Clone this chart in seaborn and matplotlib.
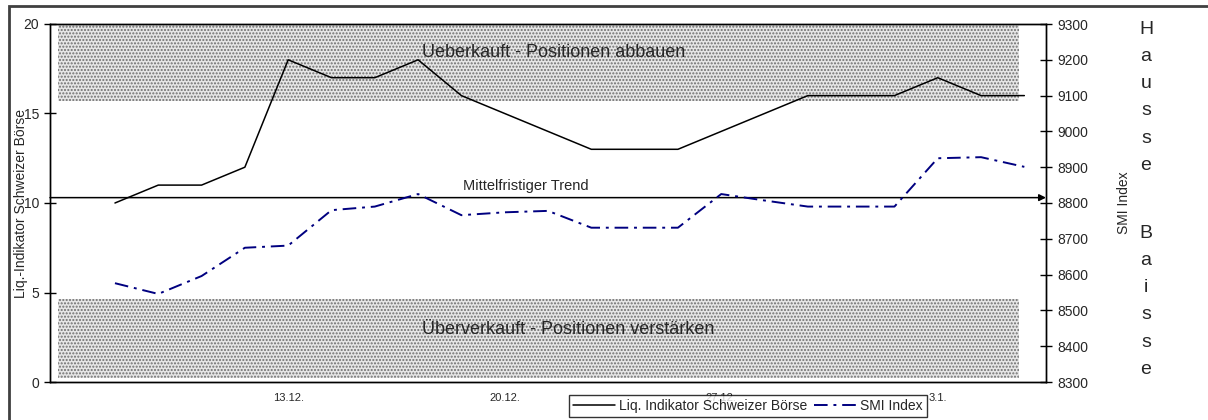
import numpy as np
import pandas as pd
import matplotlib
matplotlib.use('Agg')
import matplotlib.pyplot as plt
import seaborn as sns
from matplotlib.patches import Rectangle

# trading days 6.12. - 5.1.
dates = ['6.12.', '7.12.', '8.12.', '9.12.', '10.12.',
         '13.12.', '14.12.', '15.12.', '16.12.', '17.12.',
         '20.12.', '21.12.', '22.12.', '23.12.', '24.12.',
         '27.12.', '28.12.', '29.12.', '30.12.', '31.12.',
         '3.1.', '4.1.', '5.1.']
shown_labels = ['13.12.', '20.12.', '27.12.', '3.1.']

# values from 7.12. on
liq = [10, 11, 11, 12, 18, 17, 17, 18, 16, 15, 14, 13, 13, 13, 14, 15, 16, 16, 16, 17, 16, 16]
smi = [8576, 8546, 8596, 8675, 8681, 8780, 8790, 8825, 8766, 8774, 8778,
       8731, 8731, 8731, 8825, 8807, 8790, 8790, 8790, 8925, 8928, 8901]

zone_high = (15.7, 20.0)
zone_low = (0.2, 4.65)
trend_level = 10.3

pos = np.arange(len(dates))
df = pd.DataFrame({'pos': pos[1:1 + len(liq)], 'liq': liq, 'smi': smi})

sns.set_style('white')
plt.rcParams['font.family'] = ['Liberation Sans', 'DejaVu Sans']
plt.rcParams['hatch.linewidth'] = 1.0

fig = plt.figure(figsize=(12.08, 4.2), dpi=100)
ax = fig.add_axes([50 / 1208, 38 / 420, 996 / 1208, 358 / 420])
ax2 = ax.twinx()

# shaded zones
for lo, hi in (zone_high, zone_low):
    ax.axhspan(lo, hi, xmin=0.008, xmax=0.973, facecolor='#e6e6e6',
               edgecolor='#6e6e6e', hatch='.....', linewidth=0, zorder=0)

sns.lineplot(data=df, x='pos', y='liq', ax=ax, color='black', linewidth=1.1,
             label='Liq. Indikator Schweizer Börse')
sns.lineplot(data=df, x='pos', y='smi', ax=ax2, color='#000080', linewidth=1.4,
             linestyle=(0, (7, 3, 1.5, 3)), label='SMI Index')
for a in (ax, ax2):
    if a.get_legend() is not None:
        a.get_legend().remove()

# trend arrow
ax.annotate('', xy=(1.0, trend_level), xytext=(0.0, trend_level),
            xycoords=ax.get_yaxis_transform(), textcoords=ax.get_yaxis_transform(),
            arrowprops=dict(arrowstyle='-|>', color='black', lw=1.1, mutation_scale=10,
                            shrinkA=0, shrinkB=0))

ax.text(8.09, 18.4, 'Ueberkauft - Positionen abbauen', fontsize=13, va='center', ha='left')
ax.text(8.09, 2.96, 'Überverkauft - Positionen verstärken', fontsize=13, va='center', ha='left')
ax.text(9.03, 10.95, 'Mittelfristiger Trend', fontsize=10.5, va='center', ha='left')

# axes
ax.set_xlim(-0.5, len(dates) - 0.5)
ax.set_ylim(0, 20)
ax2.set_ylim(8300, 9300)
ax.set_yticks(np.arange(0, 21, 5))
ax2.set_yticks(np.arange(8300, 9301, 100))
ax.set_xticks(np.arange(-0.5, len(dates), 1))
ax.set_xticklabels([])
ax.set_xticks([dates.index(d) for d in shown_labels], minor=True)
ax.set_xticklabels(shown_labels, minor=True)
ax.tick_params(axis='x', which='minor', length=0, labelsize=8, pad=8)
ax.tick_params(axis='x', which='major', direction='inout', length=8, width=1, color='black')
ax.tick_params(axis='y', direction='inout', length=8, width=1, labelsize=10, pad=4, color='black')
ax2.tick_params(axis='y', direction='inout', length=8, width=1, labelsize=10, pad=4, color='black')
ax.set_xlabel('')
ax.set_ylabel('Liq.-Indikator Schweizer Börse', fontsize=10)
ax.yaxis.set_label_coords(-0.022, 0.5)
ax2.set_ylabel('SMI Index', fontsize=10)
ax2.yaxis.set_label_coords(1.071, 0.5)
for a in (ax, ax2):
    for s in a.spines.values():
        s.set_color('black')
        s.set_linewidth(1)

fig.text(1146 / 1208, 1 - 21 / 420, '\n'.join('Hausse'), fontsize=14, ha='center', va='top',
         linespacing=1.78)
fig.text(1146 / 1208, 1 - 225 / 420, '\n'.join('Baisse'), fontsize=14, ha='center', va='top',
         linespacing=1.78)

h1, l1 = ax.get_legend_handles_labels()
h2, l2 = ax2.get_legend_handles_labels()
leg = fig.legend(h1 + h2, l1 + l2, loc='lower left', bbox_to_anchor=(569 / 1208, 3 / 420),
                 ncol=2, fontsize=10, frameon=True, fancybox=False, shadow=False,
                 handlelength=3.0, handletextpad=0.3, columnspacing=0.5,
                 borderpad=0.3, borderaxespad=0)
leg.get_frame().set_edgecolor('black')
leg.get_frame().set_linewidth(1)

fig.patches.append(Rectangle((9 / 1208, -0.05), 1.1, 1 - 6 / 420 + 0.05, transform=fig.transFigure,
                             fill=False, edgecolor='#404040', linewidth=2))

fig.savefig('out.png', dpi=100)
